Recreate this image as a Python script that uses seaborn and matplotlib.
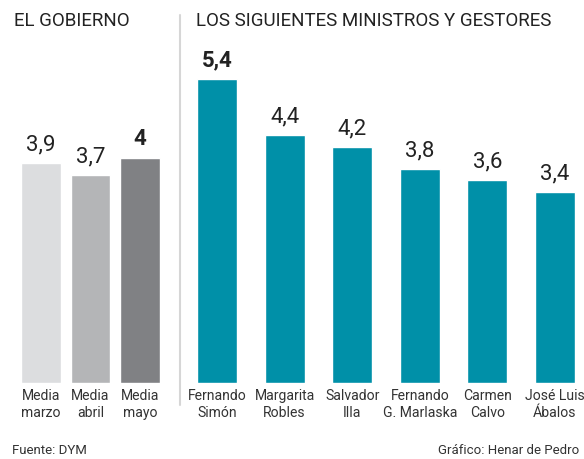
import matplotlib
matplotlib.use("Agg")
import matplotlib.pyplot as plt
import seaborn as sns
import pandas as pd

gov_labels = ["Media\nmarzo", "Media\nabril", "Media\nmayo"]
gov_values = [3.9, 3.7, 4.0]
gov_texts = ["3,9", "3,7", "4"]
gov_colors = ["#dcdddf", "#b4b5b7", "#808184"]

min_labels = ["Fernando\nSimón", "Margarita\nRobles", "Salvador\nIlla",
              "Fernando\nG. Marlaska", "Carmen\nCalvo", "José Luis\nÁbalos"]
min_values = [5.4, 4.4, 4.2, 3.8, 3.6, 3.4]
min_texts = ["5,4", "4,4", "4,2", "3,8", "3,6", "3,4"]
teal = "#0090a8"

sns.set_theme(style="white")
plt.rcParams['font.family'] = ['Roboto', 'DejaVu Sans']

W, H = 584, 459
fig = plt.figure(figsize=(W / 100, H / 100), dpi=100)

bottom_px = 383
top_px = 45.2
ax_bottom = (H - bottom_px) / H
ax_h = (bottom_px - top_px) / H

# left axes
l_step = 49.5
l_c0 = 41
l_left, l_right = 14, 168
ax1 = fig.add_axes([l_left / W, ax_bottom, (l_right - l_left) / W, ax_h])
df1 = pd.DataFrame({"cat": gov_labels, "val": gov_values})
sns.barplot(data=df1, x="cat", y="val", hue="cat", palette=gov_colors,
            width=40 / l_step, legend=False, ax=ax1, saturation=1)
ax1.set_xlim((l_left - l_c0) / l_step, (l_right - l_c0) / l_step)

# right axes
r_step = 67.6
r_c0 = 217
r_left, r_right = 186, 584
ax2 = fig.add_axes([r_left / W, ax_bottom, (r_right - r_left) / W, ax_h])
df2 = pd.DataFrame({"cat": min_labels, "val": min_values})
sns.barplot(data=df2, x="cat", y="val", hue="cat", palette=[teal] * 6,
            width=40 / r_step, legend=False, ax=ax2, saturation=1)
ax2.set_xlim((r_left - r_c0) / r_step, (r_right - r_c0) / r_step)

for ax, vals, texts, boldset in [(ax1, gov_values, gov_texts, {2}),
                                 (ax2, min_values, min_texts, {0})]:
    ax.set_ylim(0, 6)
    ax.set_xlabel("")
    ax.set_ylabel("")
    ax.set_yticks([])
    for s in ax.spines.values():
        s.set_visible(False)
    ax.tick_params(axis="x", length=0, pad=4, labelsize=10.1, labelcolor="#333333")
    for lab in ax.get_xticklabels():
        lab.set_linespacing(1.35)
    ax.patch.set_alpha(0)
    for i, (v, t) in enumerate(zip(vals, texts)):
        ax.annotate(t, (i, v), xytext=(0, 9), textcoords="offset points",
                    ha="center", va="baseline", fontsize=16,
                    fontweight="bold" if i in boldset else "normal",
                    color="#222222")

# separator line
fig.add_artist(plt.Line2D([180 / W, 180 / W], [1 - 15 / H, 1 - 405 / H],
                          transform=fig.transFigure, color="#d6d6d6", lw=1.5))

fig.text(14 / W, 1 - 21 / H, "EL GOBIERNO", ha="left", va="center",
         fontsize=13.5, color="#222222")
fig.text(196 / W, 1 - 21 / H, "LOS SIGUIENTES MINISTROS Y GESTORES", ha="left",
         va="center", fontsize=13.5, color="#222222")
fig.text(12 / W, 1 - 451 / H, "Fuente: DYM", ha="left", va="center",
         fontsize=9.5, color="#333333")
fig.text(579 / W, 1 - 451 / H, "Gráfico: Henar de Pedro", ha="right", va="center",
         fontsize=9.5, color="#333333")

fig.savefig("out.png", dpi=100, facecolor="white")
